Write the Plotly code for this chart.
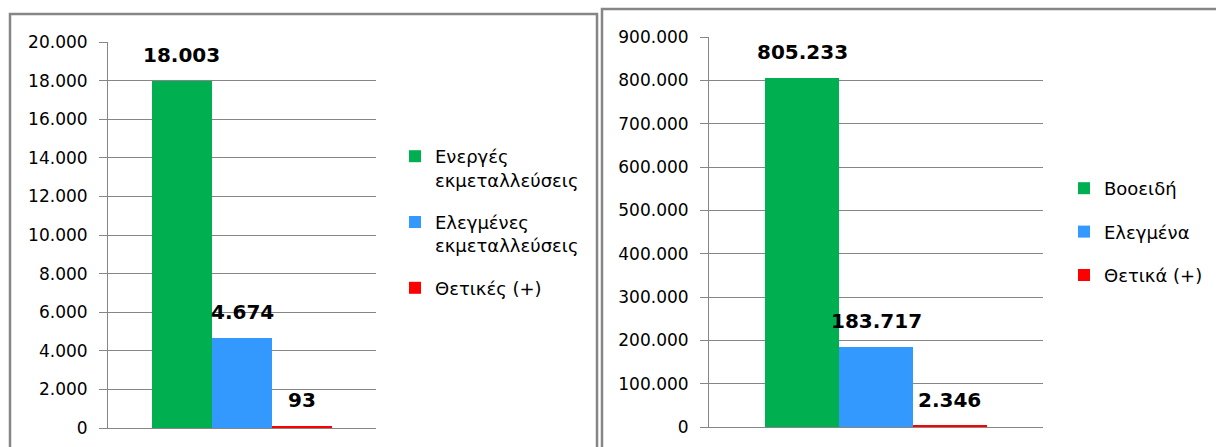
import plotly.graph_objects as go

W, H = 1216, 447

# left chart: farms
farm_names = ['Ενεργές<br>εκμεταλλεύσεις', 'Ελεγμένες<br>εκμεταλλεύσεις', 'Θετικές (+)']
farm_values = [18003, 4674, 93]

# right chart: cattle
cattle_names = ['Βοοειδή', 'Ελεγμένα', 'Θετικά (+)']
cattle_values = [805233, 183717, 2346]

colors = ['#00B050', '#3399FF', '#FF0000']
GRID = '#868686'


def px_x(p):
    return p / W


def px_y(p):
    return 1 - p / H


def fmt(v):
    return f'{v:,}'.replace(',', '.')


fig = go.Figure()

for i in range(3):
    fig.add_trace(go.Bar(x=[farm_names[i]], y=[farm_values[i]], name=farm_names[i],
                         marker=dict(color=colors[i], line=dict(width=0)),
                         legend='legend', legendgroup='a%d' % i,
                         xaxis='x', yaxis='y'))
    fig.add_annotation(x=farm_names[i], y=farm_values[i], xref='x', yref='y',
                       text=fmt(farm_values[i]), showarrow=False, yanchor='bottom', yshift=12,
                       font=dict(family='DejaVu Sans', size=20, color='black', weight='bold'))

for i in range(3):
    fig.add_trace(go.Bar(x=[cattle_names[i]], y=[cattle_values[i]], name=cattle_names[i],
                         marker=dict(color=colors[i], line=dict(width=0)),
                         legend='legend2', legendgroup='b%d' % i,
                         xaxis='x2', yaxis='y2'))
    fig.add_annotation(x=cattle_names[i], y=cattle_values[i], xref='x2', yref='y2',
                       text=fmt(cattle_values[i]), showarrow=False, yanchor='bottom', yshift=12,
                       font=dict(family='DejaVu Sans', size=20, color='black', weight='bold'))

yax = dict(showgrid=True, gridcolor=GRID, gridwidth=1, showline=True, linecolor=GRID, linewidth=1,
           ticks='outside', ticklen=8, tickcolor=GRID, tickformat=',d', zeroline=False,
           tickfont=dict(family='DejaVu Sans', size=17, color='black'), ticklabelstandoff=8,
           automargin=False, fixedrange=True)
xax = dict(type='category', showgrid=False, showticklabels=False, showline=True, linecolor=GRID,
           linewidth=1, ticks='', zeroline=False, automargin=False, fixedrange=True)

fig.update_layout(
    width=W, height=H,
    margin=dict(l=0, r=0, t=0, b=0, autoexpand=False),
    paper_bgcolor='white', plot_bgcolor='white',
    separators=',.',
    barmode='overlay', bargap=0,
    xaxis=dict(xax, domain=[px_x(108), px_x(376)], range=[-1.233, 3.233], anchor='y'),
    yaxis=dict(yax, domain=[1 - 428 / H, 1 - 42 / H], range=[0, 20000], dtick=2000, anchor='x'),
    xaxis2=dict(xax, domain=[px_x(709), px_x(1043)], range=[-1.257, 3.257], anchor='y2'),
    yaxis2=dict(yax, domain=[1 - 427 / H, 1 - 37 / H], range=[0, 900000], dtick=100000, anchor='x2'),
    legend=dict(x=px_x(395), y=px_y(138), xanchor='left', yanchor='top', valign='top',
                tracegroupgap=16, font=dict(family='DejaVu Sans', size=18, color='black'),
                bgcolor='rgba(0,0,0,0)'),
    legend2=dict(x=px_x(1064), y=px_y(170), xanchor='left', yanchor='top', valign='middle',
                 tracegroupgap=17, font=dict(family='DejaVu Sans', size=18, color='black'),
                 bgcolor='rgba(0,0,0,0)'),
    showlegend=True,
)

# panel frames
border = dict(color=GRID, width=2.5)
fig.add_shape(type='path', xref='paper', yref='paper',
              path=f'M {px_x(10)},{px_y(460)} L {px_x(10)},{px_y(14)} L {px_x(597)},{px_y(14)} L {px_x(597)},{px_y(460)}',
              line=border)
fig.add_shape(type='path', xref='paper', yref='paper',
              path=f'M {px_x(602)},{px_y(460)} L {px_x(602)},{px_y(9)} L {px_x(1230)},{px_y(9)}',
              line=border)

fig.write_html('out.html', config={'displayModeBar': False},
               post_script="document.body.style.margin='0px';")
